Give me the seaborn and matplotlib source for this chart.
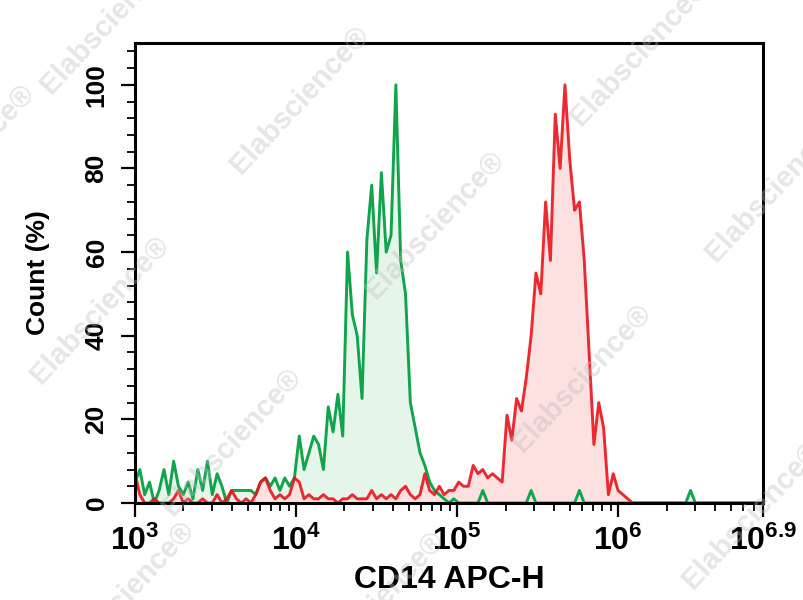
import matplotlib

matplotlib.use("Agg")
import matplotlib.pyplot as plt
import numpy as np
import seaborn as sns
from matplotlib.ticker import LogLocator, MultipleLocator, NullFormatter

# Histogram bins in log10 units (0.03 decade wide) from 10^3 to 10^6.9
BIN_START = 3.0
BIN_STEP = 0.03

# Isotype control, Count (%) per bin
control_counts = [
    5, 8, 2, 5, 0, 3, 8, 2, 10, 4,
    2, 5, 1, 8, 3, 10, 2, 7, 4, 0,
    3, 3, 3, 3, 3, 2, 5, 6, 4, 6,
    3, 6, 4, 6, 16, 8, 12, 16, 14, 8,
    23, 17, 26, 16, 60, 45, 40, 25, 63, 76,
    55, 79, 60, 64, 100, 58, 50, 24, 18, 12,
    9, 5, 3, 2, 1, 0, 1, 0, 0, 0,
    0, 0, 3, 0, 0, 0, 0, 0, 0, 0,
    0, 0, 3, 0, 0, 0, 0, 0, 0, 0,
    0, 0, 3, 0, 0, 0, 0, 0, 0, 0,
    0, 0, 0, 0, 0, 0, 0, 0, 0, 0,
    0, 0, 0, 0, 0, 3, 0, 0, 0, 0,
    0, 0, 0, 0, 0, 0, 0, 0, 0, 0,
    0,
]

# CD14 stained sample, Count (%) per bin
cd14_counts = [
    7, 2, 0, 0, 1, 0, 0, 0, 1, 3,
    0, 1, 0, 0, 1, 0, 0, 2, 0, 1,
    3, 1, 0, 1, 0, 2, 5, 6, 3, 1,
    2, 1, 2, 6, 5, 1, 2, 1, 1, 2,
    1, 1, 0, 1, 1, 2, 1, 1, 1, 3,
    1, 2, 1, 2, 1, 3, 4, 2, 1, 2,
    7, 3, 2, 4, 2, 3, 3, 5, 4, 4,
    9, 7, 8, 6, 7, 6, 5, 21, 15, 25,
    22, 30, 40, 55, 50, 72, 58, 93, 80, 100,
    82, 70, 72, 58, 36, 14, 24, 18, 2, 7,
    3, 2, 1, 0, 0, 0, 0, 0, 0, 0,
    0, 0, 0, 0, 0, 0, 0, 0, 0, 0,
    0, 0, 0, 0, 0, 0, 0, 0, 0, 0,
    0,
]

x_tick_exponents = [3, 4, 5, 6, 6.9]
x_tick_labels = [r"$\mathbf{10^{3}}$", r"$\mathbf{10^{4}}$", r"$\mathbf{10^{5}}$",
                 r"$\mathbf{10^{6}}$", r"$\mathbf{10^{6.9}}$"]
y_ticks = [0, 20, 40, 60, 80, 100]

WATERMARK = "Elabscience®"
# watermark centres in pixels (x from left, y from top)
watermark_px = [(110, 20), (300, 100), (640, 52), (775, 188), (-35, 158),
                (435, 225), (100, 310), (582, 378), (232, 442), (752, 515),
                (375, 605), (125, 595)]

sns.set_theme(style="ticks")
plt.rcParams["font.family"] = ["Liberation Sans", "DejaVu Sans"]
plt.rcParams["mathtext.fontset"] = "custom"
plt.rcParams["mathtext.rm"] = "Liberation Sans"
plt.rcParams["mathtext.bf"] = "Liberation Sans:bold"

W, H = 804, 600
fig = plt.figure(figsize=(W / 100, H / 100), dpi=100)
ax = fig.add_axes([135 / W, 1 - 503 / H, (763 - 135) / W, (503 - 43) / H])

bins = 10 ** (BIN_START + BIN_STEP * np.arange(len(control_counts)))

ax.fill_between(bins, control_counts, color="#e6f5ea", zorder=1, lw=0)
ax.fill_between(bins, cd14_counts, color="#fde0e0", zorder=1, lw=0)
sns.lineplot(x=bins, y=control_counts, color="#11a44c", lw=2.1, ax=ax, zorder=3)
sns.lineplot(x=bins, y=cd14_counts, color="#e8141c", lw=2.1, alpha=0.9, ax=ax, zorder=4)

ax.set_xscale("log")
ax.set_xlim(10 ** 3, 10 ** 6.9)
ax.set_ylim(0, 110)

ax.set_xticks([10 ** e for e in x_tick_exponents], x_tick_labels)
ax.xaxis.set_minor_locator(LogLocator(base=10, subs=np.arange(2, 10)))
ax.xaxis.set_minor_formatter(NullFormatter())
ax.set_yticks(y_ticks, [str(v) for v in y_ticks])
ax.yaxis.set_minor_locator(MultipleLocator(4))

ax.tick_params(axis="both", which="major", direction="out", length=10, width=1.6,
               color="black", labelcolor="black")
ax.tick_params(axis="both", which="minor", direction="out", length=5.5, width=1.3,
               color="black")
ax.tick_params(axis="x", which="major", labelsize=23, pad=6)
ax.tick_params(axis="y", which="major", labelsize=19, pad=9)
for lbl in ax.get_yticklabels():
    lbl.set_rotation(90)
    lbl.set_va("center")
    lbl.set_fontweight("bold")

for side in ["left", "right", "top", "bottom"]:
    ax.spines[side].set_visible(True)
    ax.spines[side].set_linewidth(2.2)
    ax.spines[side].set_color("black")
    ax.spines[side].set_zorder(6)

ax.set_xlabel("CD14 APC-H", fontsize=23, fontweight="bold", color="black")
ax.set_ylabel("Count (%)", fontsize=19, fontweight="bold", color="black")
ax.xaxis.set_label_coords(0.5, -0.135)
ax.yaxis.set_label_coords(-0.135, 0.5)
ax.grid(False)

for px, py in watermark_px:
    fig.text(px / W, 1 - py / H, WATERMARK, fontsize=21, fontweight="bold",
             color="#bdbdbd", alpha=0.38, rotation=47, ha="center", va="center",
             zorder=10)

fig.savefig("out.png", dpi=100)
